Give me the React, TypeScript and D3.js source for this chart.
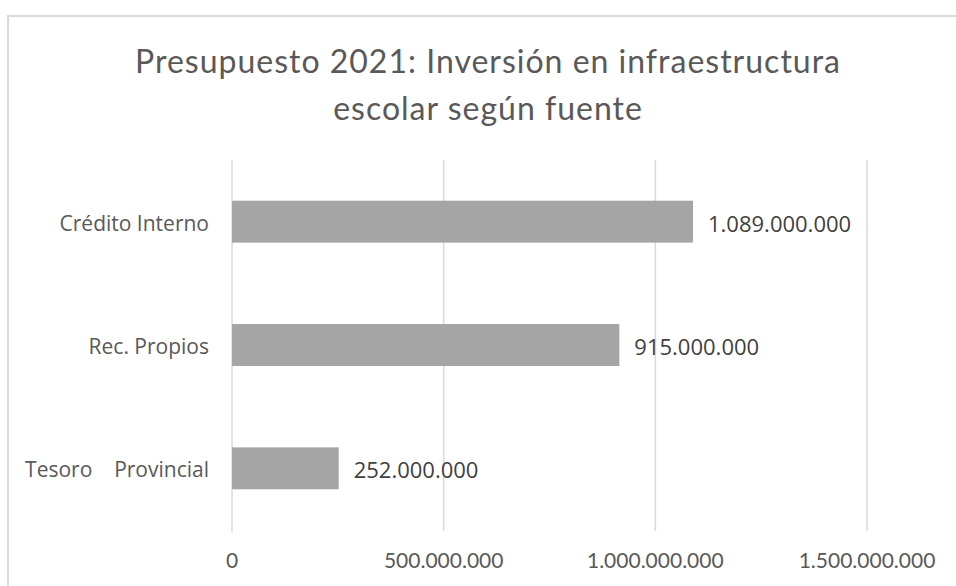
import React from "react";
import * as d3 from "d3";

const categories = ["Crédito Interno", "Rec. Propios", "Tesoro    Provincial"];
const values = [1089000000, 915000000, 252000000];
const ticks = [0, 500000000, 1000000000, 1500000000];
const titleLines = ["Presupuesto 2021: Inversión en infraestructura", "escolar según fuente"];

const fmt = (v: number) => d3.format(",")(v).replace(/,/g, ".");

export default function App() {
  const W = 956, H = 586;
  const x = d3.scaleLinear().domain([0, 1500000000]).range([232, 867]);
  const y = d3.scaleBand().domain(categories).range([160, 530]).paddingInner(0.66).paddingOuter(0.33);
  return (
    <svg width={W} height={H} style={{ position: "absolute", left: 0, top: 0, background: "#fff" }}>
      <rect x={0} y={0} width={W} height={H} fill="#fff" />
      <path d={`M8,${H} V16 H${W}`} fill="none" stroke="#d9d9d9" strokeWidth={2} />
      {titleLines.map((t, i) => (
        <text key={i} x={488} y={73 + i * 47} textAnchor="middle" fontFamily="Lato" fontSize={32} letterSpacing={1} fill="#595959">{t}</text>
      ))}
      {ticks.map((t) => (
        <line key={t} x1={x(t)} x2={x(t)} y1={160} y2={531} stroke="#d9d9d9" strokeWidth={1.5} />
      ))}
      {categories.map((c, i) => (
        <g key={c}>
          <rect x={x(0)} y={y(c)!} width={x(values[i]) - x(0)} height={y.bandwidth()} fill="#a5a5a5" />
          <text x={x(values[i]) + 15} y={y(c)! + y.bandwidth() / 2 + 10} fontFamily="Open Sans" fontSize={22} fill="#404040">{fmt(values[i])}</text>
          <text x={209} y={y(c)! + y.bandwidth() / 2 + 9} textAnchor="end" fontFamily="Open Sans" fontSize={21} fill="#595959" style={{ whiteSpace: "pre" }}>{c}</text>
        </g>
      ))}
      {ticks.map((t) => (
        <text key={t} x={x(t)} y={568} textAnchor="middle" fontFamily="Lato" fontSize={21} fill="#595959">{fmt(t)}</text>
      ))}
    </svg>
  );
}
